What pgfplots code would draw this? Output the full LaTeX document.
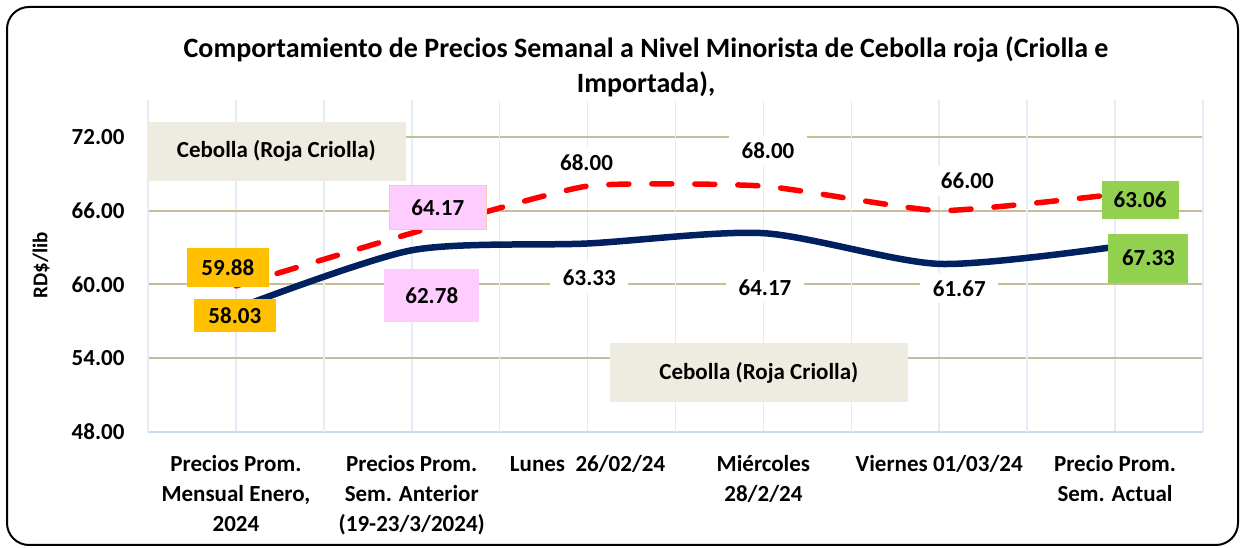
\documentclass[border=0pt]{standalone}
\usepackage{pgfplots}
\pgfplotsset{compat=1.18}
\usepackage{fontspec}
\setmainfont{Carlito}
\definecolor{navyline}{HTML}{002060}
\definecolor{redline}{HTML}{FF0000}
\definecolor{tangrid}{HTML}{C4BD97}
\definecolor{vgridlight}{HTML}{E4ECF7}
\definecolor{vgriddark}{HTML}{C9D9EE}
\definecolor{beigebox}{HTML}{EEECE1}
\definecolor{orangebox}{HTML}{FFC000}
\definecolor{pinkbox}{HTML}{FFCCFF}
\definecolor{pinkborder}{HTML}{F8CBAD}
\definecolor{greenbox}{HTML}{92D050}
\begin{document}
\begin{tikzpicture}[x=1pt,y=1pt]
\useasboundingbox (0,0) rectangle (1244,548);
\fill[white] (0,0) rectangle (1244,548);
\draw[line width=2pt, rounded corners=22pt] (7,3) rectangle (1238,541);
\node[font=\bfseries\fontsize{28}{35}\selectfont, align=center] at (646,481)
  {Comportamiento de Precios Semanal a Nivel Minorista de Cebolla roja (Criolla e\\Importada),};
\node[font=\bfseries\fontsize{21}{25}\selectfont, rotate=90] at (41,283) {RD\$/lib};
\begin{axis}[
  at={(148pt,116pt)}, anchor=south west,
  scale only axis, width=1055pt, height=332pt,
  xmin=-0.5, xmax=5.5, ymin=48, ymax=75,
  clip=false,
  axis x line*=bottom, axis y line*=left,
  axis line style={vgriddark, line width=1.6pt, -},
  xtick={0,1,2,3,4,5},
  xticklabels={{Precios Prom.\\Mensual Enero,\\2024},{Precios Prom.\\Sem. Anterior\\(19-23/3/2024)},{Lunes\ \ 26/02/24},{Miércoles\\28/2/24},{Viernes 01/03/24},{Precio Prom.\\Sem. Actual}},
  xticklabel style={align=center, font=\bfseries\fontsize{23}{30}\selectfont, yshift=-20pt},
  xmajorgrids, major x grid style={vgridlight, line width=1.6pt},
  x tick style={draw=none},
  extra x ticks={-0.5,0.5,1.5,2.5,3.5,4.5,5.5},
  extra x tick labels={},
  extra x tick style={grid=major, major grid style={vgriddark, line width=1.6pt},
     tick style={draw=vgriddark, line width=1.6pt}, major tick length=8pt, tick align=outside},
  ytick={48,54,60,66,72},
  yticklabels={48.00,54.00,60.00,66.00,72.00},
  yticklabel style={font=\bfseries\fontsize{23}{28}\selectfont, xshift=-20pt},
  y tick style={draw=none},
  ymajorgrids, major y grid style={tangrid, line width=2pt},
]
\addplot[navyline, line width=6.5pt, smooth, tension=0.45] coordinates {
  (0,58.03) (1,62.78) (2,63.33) (3,64.17) (4,61.67) (5,63.06)};
\addplot[redline, line width=5.5pt, smooth, tension=0.3, line cap=round, dash pattern=on 20pt off 23pt] coordinates {
  (0,59.88) (1,64.17) (2,68.00) (3,68.00) (4,66.00) (5,67.33)};
\tikzset{lbl/.style={font=\bfseries\fontsize{23}{28}\selectfont, inner sep=0pt, anchor=center}}
\node[lbl, fill=beigebox, minimum width=259pt, minimum height=59pt] at (axis cs:0.23,70.83) {Cebolla (Roja Criolla)};
\node[lbl, fill=beigebox, minimum width=298pt, minimum height=59pt] at (axis cs:2.974,52.83) {Cebolla (Roja Criolla)};
\node[lbl, fill=orangebox, minimum width=82pt, minimum height=39pt] at (axis cs:-0.046,61.34) {59.88};
\node[lbl, fill=orangebox, minimum width=82pt, minimum height=33pt] at (axis cs:-0.006,57.45) {58.03};
\node[lbl, fill=pinkbox, draw=pinkborder, line width=1.2pt, minimum width=97pt, minimum height=44pt] at (axis cs:1.148,66.25) {64.17};
\node[lbl, fill=pinkbox, minimum width=95pt, minimum height=53pt] at (axis cs:1.114,59.07) {62.78};
\node[lbl, fill=white, minimum width=78pt, minimum height=30pt] at (axis cs:1.994,69.9) {68.00};
\node[lbl, fill=white, minimum width=78pt, minimum height=30pt] at (axis cs:2.01,60.57) {63.33};
\node[lbl, fill=white, minimum width=78pt, minimum height=30pt] at (axis cs:3.026,70.87) {68.00};
\node[lbl, fill=white, minimum width=78pt, minimum height=30pt] at (axis cs:3.009,59.76) {64.17};
\node[lbl, fill=white, minimum width=78pt, minimum height=30pt] at (axis cs:4.16,68.44) {66.00};
\node[lbl, fill=white, minimum width=78pt, minimum height=30pt] at (axis cs:4.114,59.68) {61.67};
\node[lbl, fill=greenbox, minimum width=77pt, minimum height=38pt] at (axis cs:5.142,66.9) {63.06};
\node[lbl, fill=greenbox, minimum width=80pt, minimum height=49pt] at (axis cs:5.19,62.15) {67.33};
\end{axis}
\end{tikzpicture}
\end{document}
